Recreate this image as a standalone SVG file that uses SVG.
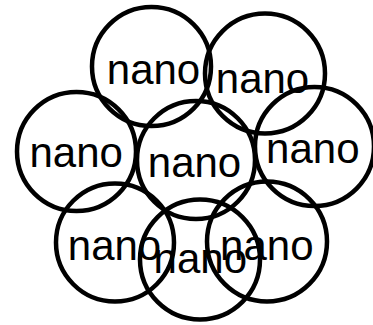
<svg xmlns="http://www.w3.org/2000/svg" width="373" height="325" viewBox="0 0 373 325">
<style>
.c{fill:none;stroke:#000;stroke-width:4.5}
.t{font-family:"Liberation Sans",Arial,sans-serif;font-size:42px;fill:#000;text-anchor:middle}
</style>
<rect width="373" height="325" fill="#fff"/>
<g id="tl"><circle class="c" cx="151.5" cy="66.5" r="59.5"/><text class="t" x="153.5" y="83.5">nano</text></g>
<g id="tr"><circle class="c" cx="265" cy="73.5" r="60"/><text class="t" x="262.5" y="93.3">nano</text></g>
<g id="l"><circle class="c" cx="76.5" cy="151.5" r="59.5"/><text class="t" x="76.2" y="166.7">nano</text></g>
<g id="c"><circle class="c" cx="196" cy="160" r="59"/><text class="t" x="194.5" y="176.7">nano</text></g>
<g id="r"><circle class="c" cx="314.5" cy="146.5" r="59.5"/><text class="t" x="312.8" y="162.7">nano</text></g>
<g id="bl"><circle class="c" cx="115" cy="242.5" r="59"/><text class="t" x="114.5" y="260">nano</text></g>
<g id="bc"><circle class="c" cx="200" cy="259.5" r="60"/><text class="t" x="200.3" y="273.3">nano</text></g>
<g id="br"><circle class="c" cx="267" cy="241.5" r="60"/><text class="t" x="266.8" y="260">nano</text></g>
<g id="connectors"></g>
</svg>
